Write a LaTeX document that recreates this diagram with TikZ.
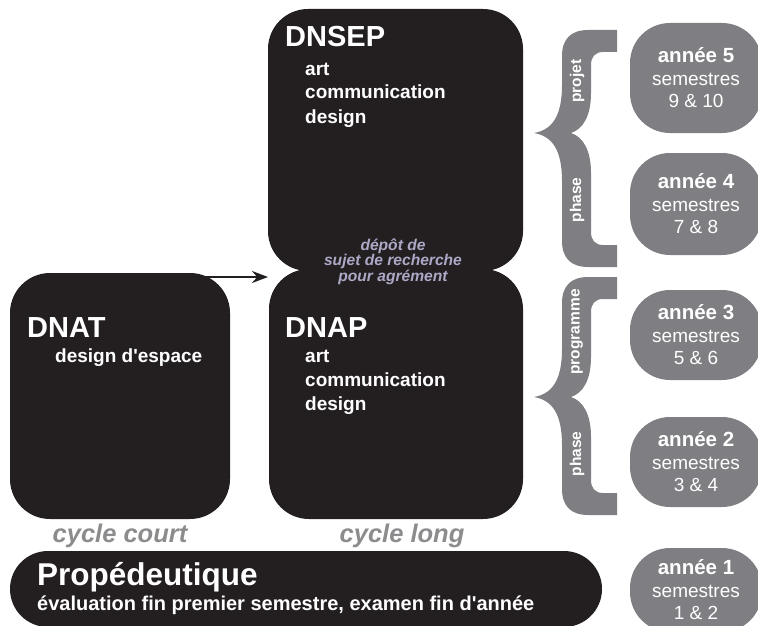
\documentclass[tikz,border=0pt]{standalone}
\usepackage{fontspec}
\setmainfont{Liberation Sans}
\usetikzlibrary{arrows.meta, positioning, calc}

\definecolor{noir}{HTML}{231F20}
\definecolor{gris}{HTML}{7F7F83}
\definecolor{griscycle}{HTML}{8C8C8F}
\definecolor{lavande}{HTML}{ACA8C6}

\newcommand{\taille}[2]{\fontsize{#1}{#2}\selectfont}

% accolade grise : haut, pointe, bas
\newcommand{\accolade}[3]{%
  \fill[gris] (617,#1) -- (588,#1) .. controls (571,#1) and (562,{#1+9}) .. (562,{#1+26})
    -- (562,{#2-48}) .. controls (562,{#2-15}) and (551,{#2-3}) .. (534,#2)
    .. controls (551,{#2+3}) and (562,{#2+15}) .. (562,{#2+48})
    -- (562,{#3-26}) .. controls (562,{#3-9}) and (571,#3) .. (588,#3)
    -- (617,#3) -- (617,{#3-22}) -- (603,{#3-22}) .. controls (595,{#3-22}) and (591,{#3-27}) .. (591,{#3-35})
    -- (591,{#2+40}) .. controls (591,{#2+17}) and (583,{#2+4}) .. (571,#2)
    .. controls (583,{#2-4}) and (591,{#2-17}) .. (591,{#2-40})
    -- (591,{#1+35}) .. controls (591,{#1+27}) and (595,{#1+22}) .. (603,{#1+22})
    -- (617,{#1+22}) -- cycle;}

\tikzset{
  diplome/.style={fill=noir, rounded corners=40pt, inner sep=0pt},
  titre/.style={text=white, anchor=base west, inner sep=0pt, font=\bfseries\taille{29}{29}},
  liste/.style={text=white, anchor=base west, inner sep=0pt, font=\bfseries\taille{19}{19}},
  annee/.style={fill=gris, rounded corners=40pt, minimum width=132pt, inner sep=0pt,
    text=white, align=center, font=\taille{19}{22.5}},
  etiquette/.style={text=white, rotate=90, inner sep=0pt, font=\bfseries\taille{15.5}{16}},
  cycle/.style={text=griscycle, anchor=base, inner sep=0pt, font=\bfseries\itshape\taille{25.5}{26}},
  fleche/.style={draw=noir, line width=2pt, -{Stealth[length=16pt, width=12pt]}}
}

\begin{document}
\begin{tikzpicture}[x=1pt, y=-1pt]
    \useasboundingbox (0,0) rectangle (758,626);
    \clip (0,0) rectangle (758,626);

    \node[diplome, minimum width=255pt, minimum height=262pt] (dnsep) at (395.5,140) {};
    \node[diplome, minimum width=254pt, minimum height=250pt] (dnap) at (396,394) {};
    \node[diplome, minimum width=220pt, minimum height=246pt] (dnat) at (120,396) {};
    \node[diplome, rounded corners=38pt, minimum width=592pt, minimum height=76pt] (prope) at (306,589) {};

    \node[titre] (t-dnsep) at (285,47) {DNSEP};
    \foreach \mot [count=\i] in {art, communication, design}
        \node[liste] (dnsep-\i) at (305,{51+24*\i}) {\mot};

    \node[titre] (t-dnap) at (285,337) {DNAP};
    \foreach \mot [count=\i] in {art, communication, design}
        \node[liste] (dnap-\i) at (305,{338+24*\i}) {\mot};

    \node[titre] (t-dnat) at (27,337) {DNAT};
    \node[liste] (espace) at (55,362) {design d\textquotesingle espace};

    \node[text=lavande, align=center, inner sep=0pt, font=\bfseries\itshape\taille{15.6}{15.5}] (depot) at (393,261.5)
        {dépôt de\\sujet de recherche\\pour agrément};

    \coordinate (cible) at (268,277);
    \draw[fleche] (dnat.north |- cible) -- (cible);

    \node[cycle] (court) at (120,542) {cycle court};
    \node[cycle] (long) at (402,542) {cycle long};

    \node[text=white, anchor=base west, inner sep=0pt, font=\bfseries\taille{31.5}{32}] (t-prope) at (37,585) {Propédeutique};
    \node[text=white, anchor=base west, inner sep=0pt, font=\bfseries\taille{20}{20}] (eval) at (37,610)
        {évaluation fin premier semestre, examen fin d\textquotesingle année};

    \accolade{30}{133}{267}
    \accolade{277}{397}{515}
    \node[etiquette] (projet) at (577,81) {projet};
    \node[etiquette] (phase-haut) at (577,200) {phase};
    \node[etiquette] (programme) at (577,332) {programme};
    \node[etiquette] (phase-bas) at (577,454) {phase};

    \foreach \n/\y/\h/\s in {5/78/110/9 \& 10, 4/204/102/7 \& 8, 3/335/90/5 \& 6, 2/462/90/3 \& 4, 1/590/84/1 \& 2}
        \node[annee, minimum height=\h pt] (an\n) at (696,\y) {{\bfseries\taille{20.5}{23}année \n}\\semestres\\\s};
\end{tikzpicture}
\end{document}
